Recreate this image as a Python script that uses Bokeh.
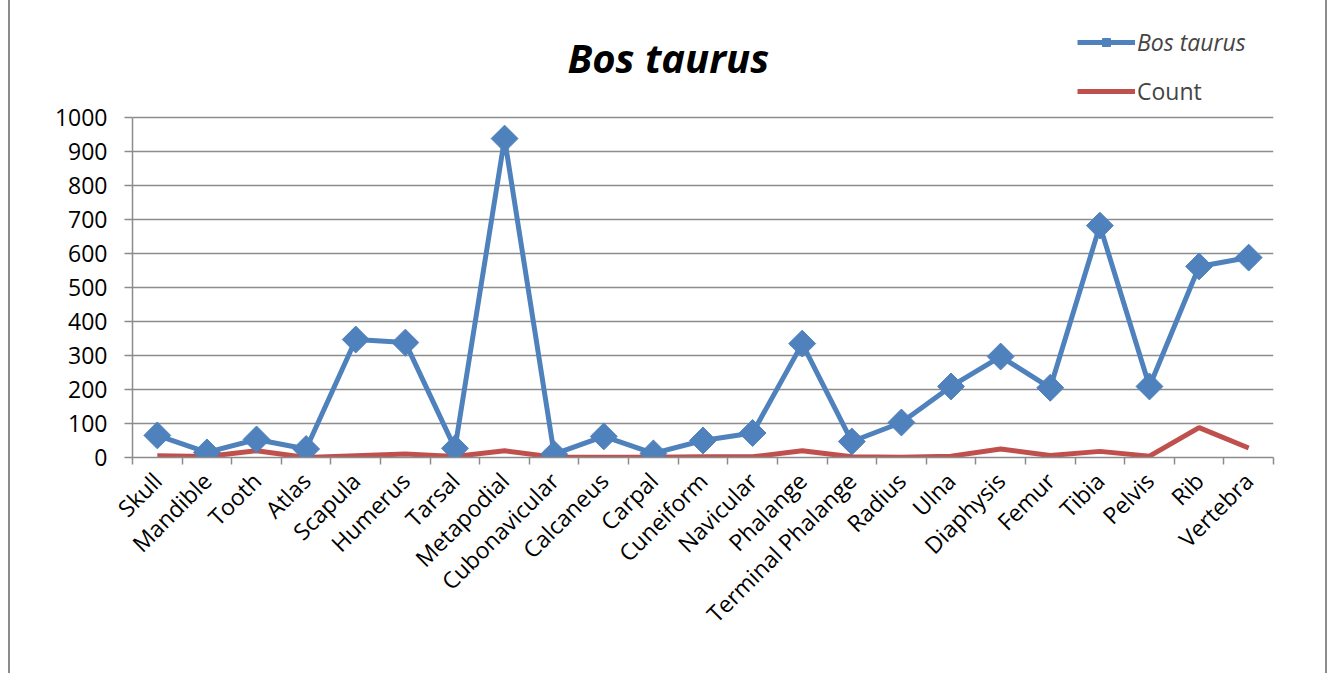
import math
from bokeh.plotting import figure
from bokeh.models import (ColumnDataSource, FixedTicker, Legend, LegendItem, Label)
from bokeh.embed import file_html
from bokeh.resources import INLINE

categories = ["Skull", "Mandible", "Tooth", "Atlas", "Scapula", "Humerus", "Tarsal",
              "Metapodial", "Cubonavicular", "Calcaneus", "Carpal", "Cuneiform",
              "Navicular", "Phalange", "Terminal Phalange", "Radius", "Ulna",
              "Diaphysis", "Femur", "Tibia", "Pelvis", "Rib", "Vertebra"]
bos_taurus = [65, 15, 53, 25, 347, 338, 27, 938, 10, 62, 12, 50, 72, 335, 47,
              103, 209, 297, 205, 682, 209, 562, 588]
count = [5, 3, 20, 0, 5, 10, 3, 20, 1, 1, 1, 2, 2, 20, 2, 1, 4, 25, 6, 18, 4, 88, 28]
y_ticks = [0, 100, 200, 300, 400, 500, 600, 700, 800, 900, 1000]

FONT = "Open Sans"
BLUE = "#4F81BD"
RED = "#C0504D"
GRID = "#8C8C8C"

xs = list(range(len(categories)))
src = ColumnDataSource(dict(x=xs, bos=bos_taurus, cnt=count))

p = figure(width=1319, height=673, output_backend="svg", toolbar_location=None,
           x_range=(-0.5, len(categories) - 0.5), y_range=(0, 1285.3),
           min_border_left=122, min_border_right=56, min_border_top=20,
           min_border_bottom=216)
p.outline_line_color = None
p.styles = {"margin-left": "8px",
            "border-left": "2px solid #8C8C8C", "border-right": "2px solid #8C8C8C"}

# title (drawn inside the top area)
p.add_layout(Label(x=10.3, y=1176, text="Bos taurus", text_font=FONT,
                   text_font_size="40px", text_font_style="bold italic",
                   text_color="black", text_align="center", text_baseline="middle"))

# lines
r_cnt = p.line("x", "cnt", source=src, line_color=RED, line_width=5)
r_bos = p.line("x", "bos", source=src, line_color=BLUE, line_width=5)
r_bos_m = p.scatter("x", "bos", source=src, marker="square", angle=math.pi / 4,
                    size=19, fill_color=BLUE, line_color=BLUE)

# x axis
xa = p.xaxis[0]
xa.ticker = FixedTicker(ticks=xs, minor_ticks=[i - 0.5 for i in range(len(categories) + 1)])
xa.major_label_overrides = {i: c for i, c in enumerate(categories)}
xa.major_label_orientation = math.pi / 4
xa.major_tick_out = 0
xa.major_tick_in = 0
xa.minor_tick_out = 7
xa.minor_tick_in = 0
xa.minor_tick_line_color = GRID
xa.minor_tick_line_width = 1.5
xa.axis_line_color = GRID
xa.axis_line_width = 1.5
xa.major_label_text_font = FONT
xa.major_label_text_font_size = "23px"
xa.major_label_text_color = "black"
xa.major_label_standoff = 12

# y axis
ya = p.yaxis[0]
ya.ticker = FixedTicker(ticks=y_ticks, minor_ticks=[])
ya.bounds = (0, 1000)
ya.major_tick_out = 8
ya.major_tick_in = 0
ya.major_tick_line_color = GRID
ya.major_tick_line_width = 1.5
ya.axis_line_color = GRID
ya.axis_line_width = 1.5
ya.major_label_text_font = FONT
ya.major_label_text_font_size = "23px"
ya.major_label_text_color = "black"
ya.major_label_standoff = 17

p.xgrid.visible = False
p.ygrid.grid_line_color = GRID
p.ygrid.grid_line_width = 1.5
p.ygrid.ticker = FixedTicker(ticks=y_ticks)

leg1 = Legend(items=[LegendItem(label="Bos taurus", renderers=[r_bos, r_bos_m])],
              location=(945, 399), label_text_font=FONT, label_text_font_size="23px",
              label_text_font_style="italic", glyph_width=58, glyph_height=20,
              border_line_color=None, background_fill_alpha=0, padding=0, margin=0,
              label_standoff=2)
leg2 = Legend(items=[LegendItem(label="Count", renderers=[r_cnt])],
              location=(945, 350), label_text_font=FONT, label_text_font_size="23px",
              glyph_width=58, glyph_height=20,
              border_line_color=None, background_fill_alpha=0, padding=0, margin=0,
              label_standoff=2)
p.add_layout(leg1, "center")
p.add_layout(leg2, "center")

open("out.html", "w").write(file_html(p, INLINE))
